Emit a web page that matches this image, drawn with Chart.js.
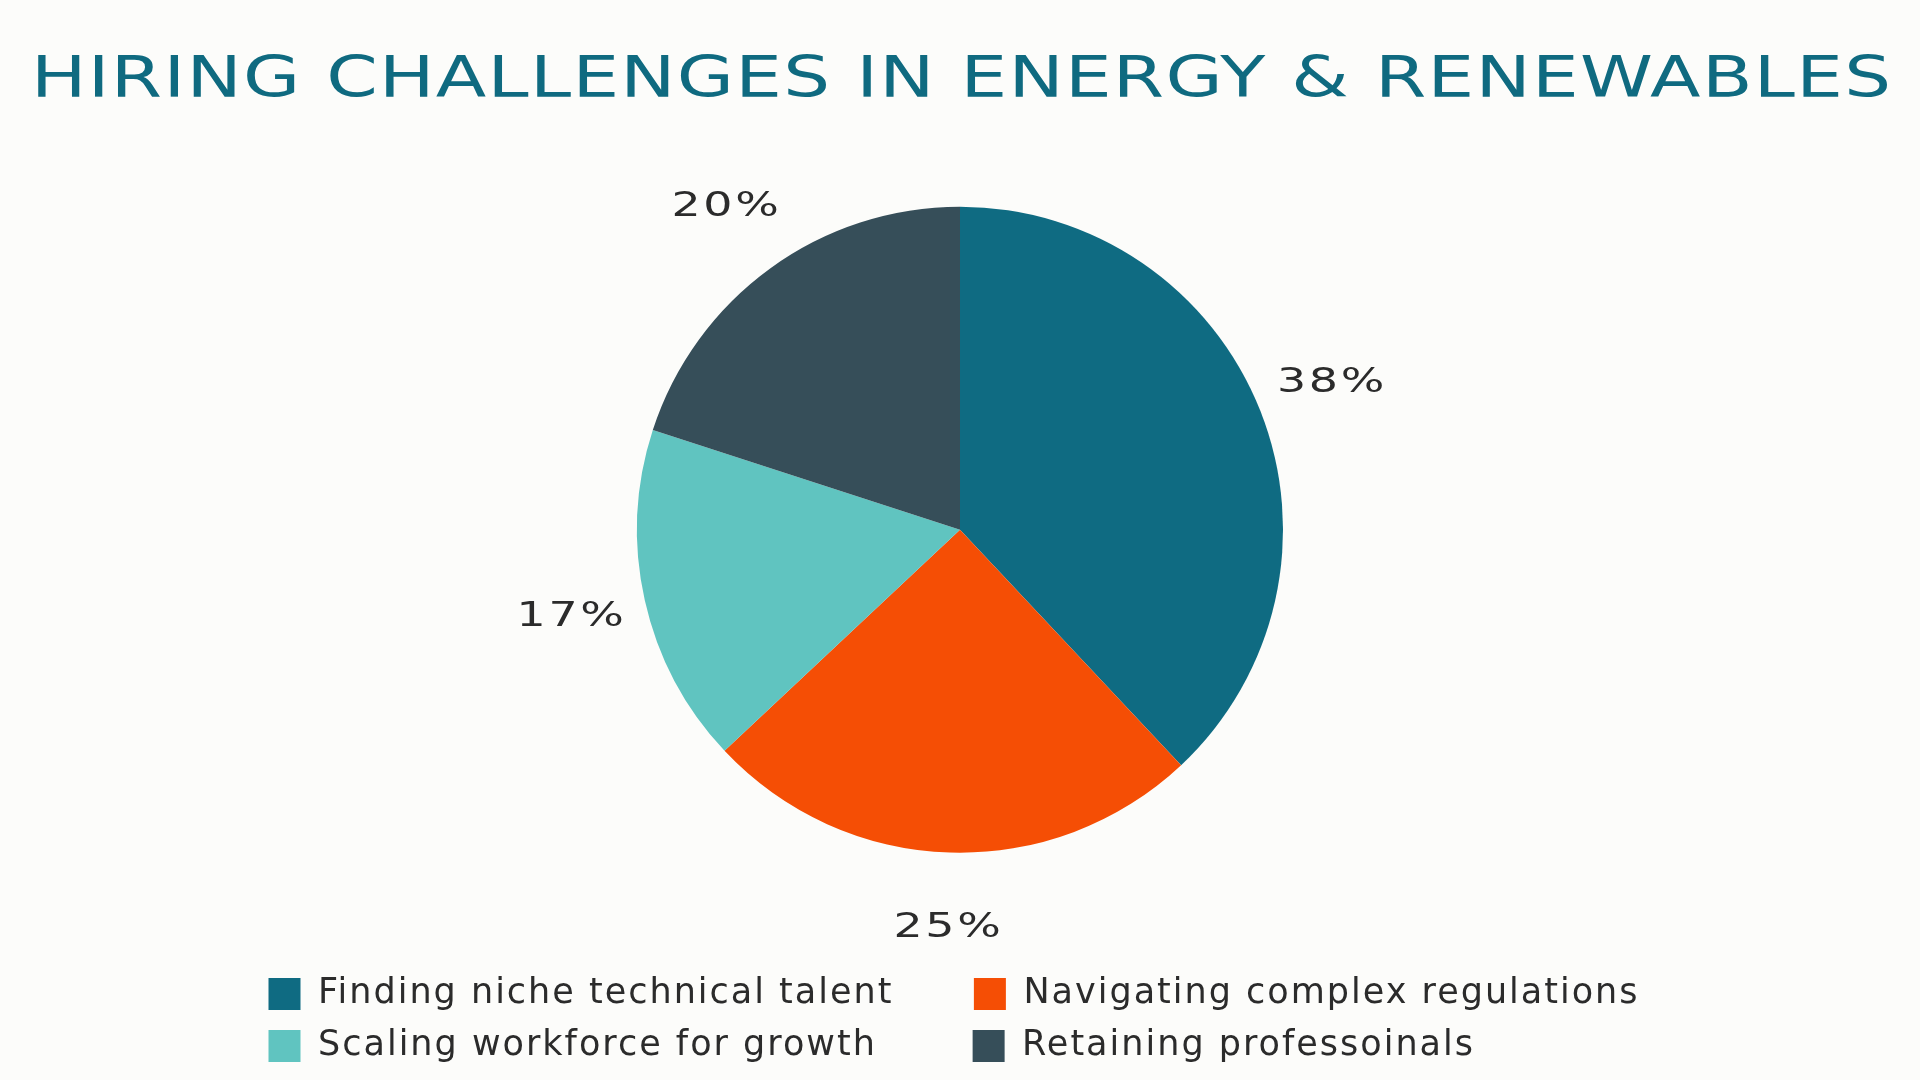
<!DOCTYPE html>
<html>
<head>
<meta charset="utf-8">
<title>Hiring challenges in energy &amp; renewables</title>
<script src="https://cdn.jsdelivr.net/npm/chart.js@4.4.1/dist/chart.umd.min.js"></script>
<style>
  html, body { margin: 0; padding: 0; background: #fcfcfa; }
  #chart-hiring { display: block; }
</style>
</head>
<body>
<canvas id="chart-hiring" width="1920" height="1080"></canvas>
<script>
var chartTitle = 'HIRING CHALLENGES IN ENERGY & RENEWABLES';
var categories = [
    'Finding niche technical talent',
    'Navigating complex regulations',
    'Scaling workforce for growth',
    'Retaining professoinals'
];
var shares = [38, 25, 17, 20];
var sliceColors = ['#0f6b82', '#f54e05', '#60c4c0', '#364e59'];

var textFont = '"DejaVu Sans", sans-serif';
var textColor = '#2b2b2b';
var titleColor = '#0f6a80';
var legendSize = 35;

// legend rows get centred one by one, so pad the text to fixed widths
// to keep the two rows lined up like columns
var measureCtx = document.createElement('canvas').getContext('2d');
measureCtx.font = legendSize + 'px ' + textFont;
measureCtx.letterSpacing = '2px';
var columnWidths = [641, 626];
function padTo(text, width) {
    var out = text;
    while (measureCtx.measureText(out + ' ').width <= width) out += ' ';
    while (measureCtx.measureText(out + '\u200a').width <= width) out += '\u200a';
    return out;
}

var wideText = {
    id: 'wideText',
    beforeUpdate: function(chart) {
        chart.ctx.letterSpacing = '2px';
    },
    afterUpdate: function(chart) {
        // same width for both legend rows so they start at the same x
        var pad = chart.options.plugins.legend.labels.padding;
        var rowWidth = 2 * (32 + legendSize / 2 + pad) + columnWidths[0] + columnWidths[1];
        var lw = chart.legend.lineWidths;
        var m = Math.max.apply(null, lw.concat([rowWidth]));
        for (var i = 0; i < lw.length; i++) lw[i] = m;
    },
    beforeDraw: function(chart) {
        var ctx = chart.ctx;
        ctx.letterSpacing = '2px';
        // title, stretched to the full width like the original lettering
        ctx.save();
        ctx.font = '57px ' + textFont;
        ctx.letterSpacing = '1px';
        ctx.fillStyle = titleColor;
        ctx.textAlign = 'left';
        ctx.textBaseline = 'alphabetic';
        var w = ctx.measureText(chartTitle).width - 1;
        var target = 1860;
        ctx.translate(chart.width / 2 + 1 - target / 2, 97);
        ctx.scale(target / w, 1);
        ctx.fillText(chartTitle, 0, 0);
        ctx.restore();
    }
};

var pctLabels = {
    id: 'pctLabels',
    afterDatasetsDraw: function(chart) {
        var ctx = chart.ctx;
        var meta = chart.getDatasetMeta(0);
        ctx.save();
        ctx.font = '34px ' + textFont;
        ctx.letterSpacing = '2px';
        ctx.fillStyle = textColor;
        ctx.textAlign = 'center';
        ctx.textBaseline = 'middle';
        meta.data.forEach(function(arc, i) {
            var p = arc.getProps(['x', 'y', 'startAngle', 'endAngle', 'outerRadius'], true);
            var mid = (p.startAngle + p.endAngle) / 2;
            var r = p.outerRadius + 76;
            ctx.save();
            ctx.translate(p.x + Math.cos(mid) * r + 1, p.y + Math.sin(mid) * r);
            ctx.scale(1.35, 1);
            ctx.fillText(shares[i] + '%', 0, 0);
            ctx.restore();
        });
        ctx.restore();
    }
};

var config_hiring = {
    type: 'pie',
    data: {
        labels: categories,
        datasets: [{
            data: shares,
            backgroundColor: sliceColors,
            borderWidth: 0,
            radius: 323,
            label: 'Hiring challenges'
        }]
    },
    options: {
        responsive: false,
        animation: false,
        layout: {
            padding: { top: 100, bottom: 6.5, left: 0, right: 0 }
        },
        plugins: {
            title: { display: false },
            tooltip: { enabled: false },
            legend: {
                position: 'bottom',
                labels: {
                    font: { family: textFont, size: legendSize },
                    color: textColor,
                    boxWidth: 32,
                    boxHeight: 32,
                    padding: 17,
                    generateLabels: function(chart) {
                        var items = Chart.overrides.pie.plugins.legend.labels.generateLabels(chart);
                        items.forEach(function(item, i) {
                            item.text = padTo(item.text, columnWidths[i % 2]);
                        });
                        return items;
                    }
                }
            }
        }
    },
    plugins: [wideText, pctLabels]
};

window.onload = function() {
    var ctx = document.getElementById('chart-hiring').getContext('2d');
    window.hiringPie = new Chart(ctx, config_hiring);
};
</script>
</body>
</html>
